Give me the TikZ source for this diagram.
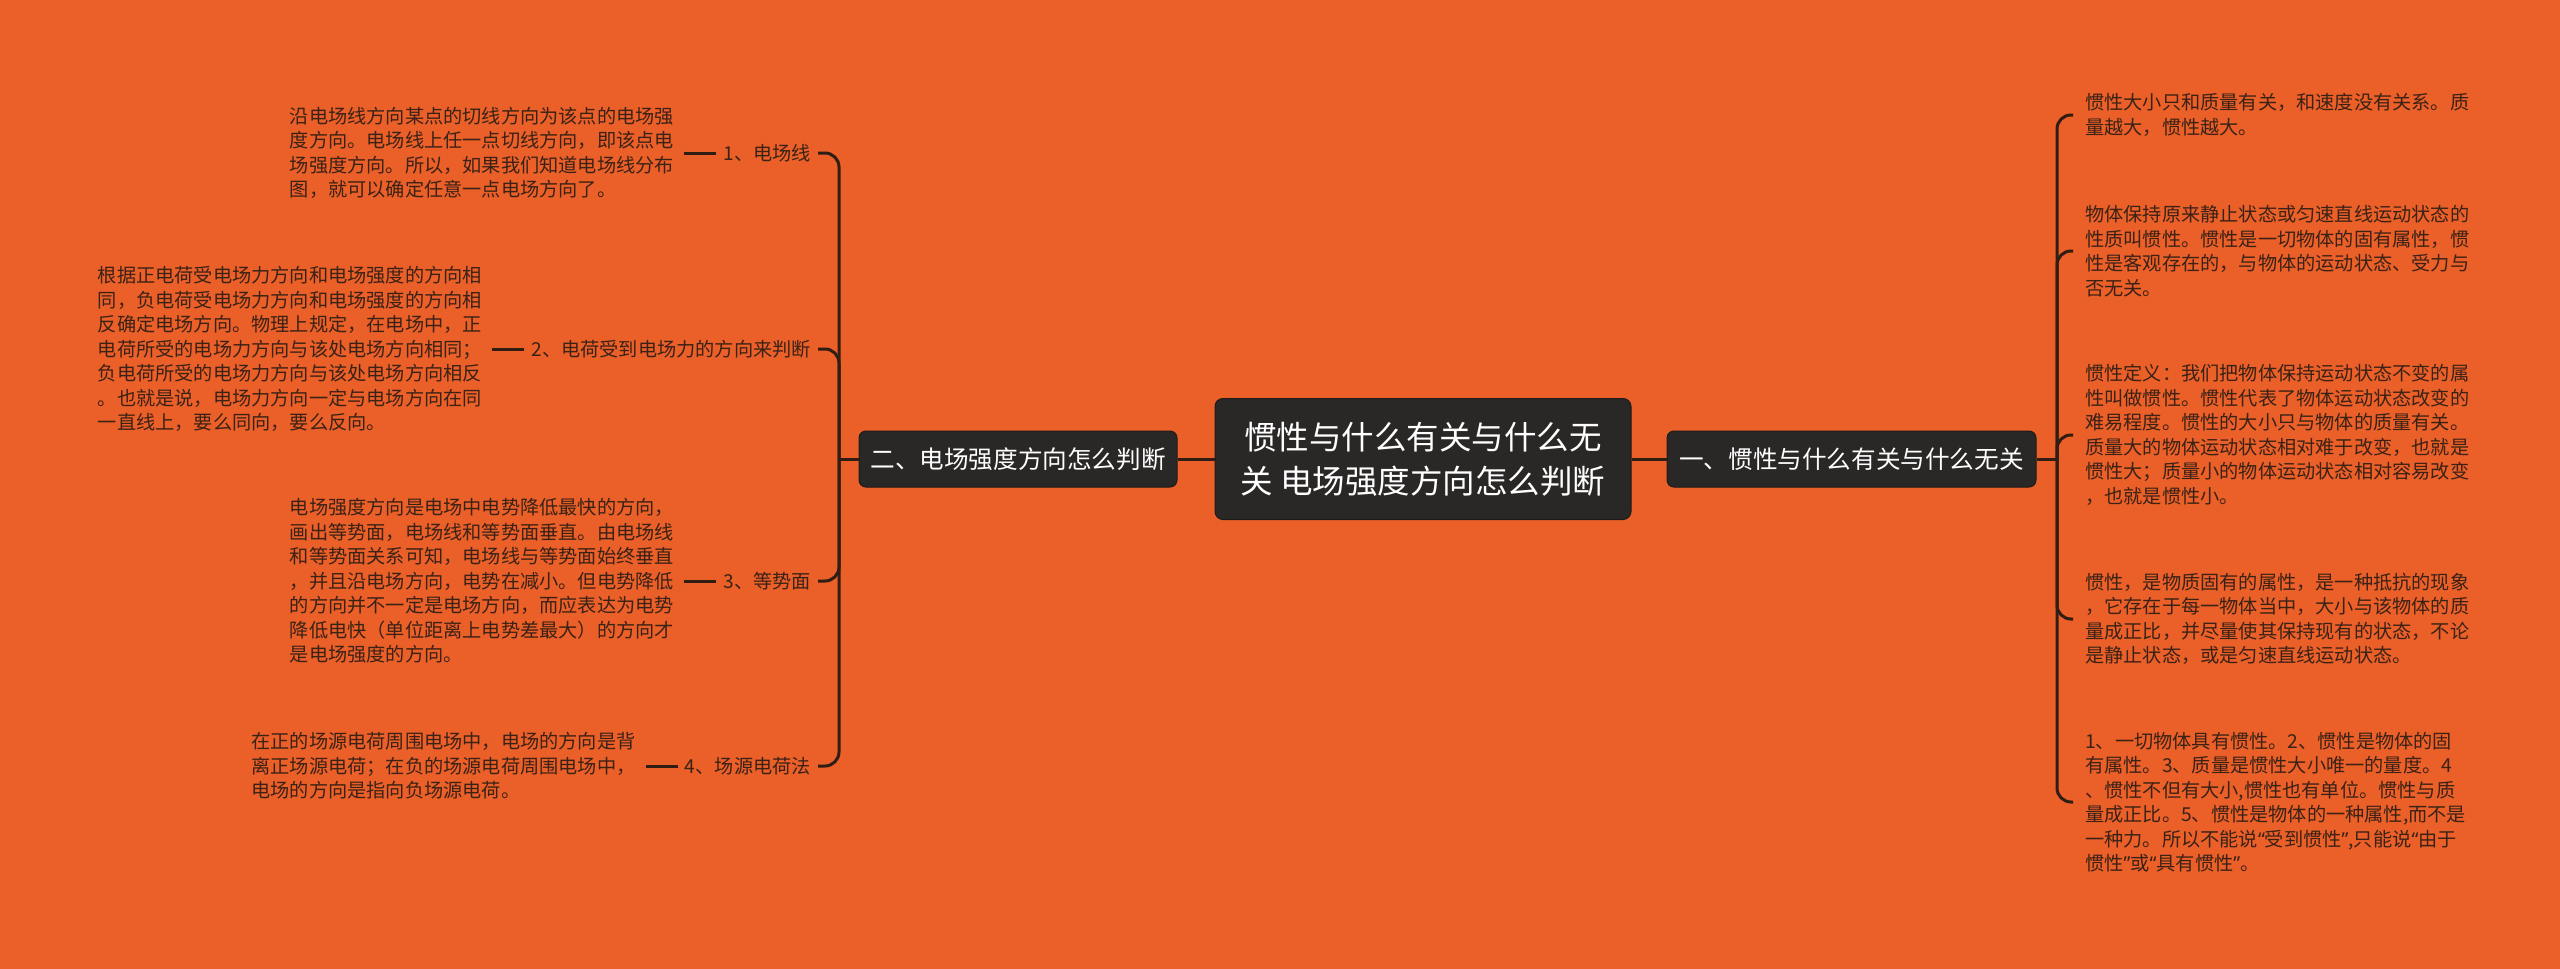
\documentclass[tikz,border=0pt]{standalone}
\usepackage{fontspec}
\setmainfont{Noto Sans CJK SC}
\newfontfamily\qfont{Noto Sans}
\newcommand{\myoq}{{\qfont “}}
\newcommand{\mycq}{{\qfont ”}}
\definecolor{bgc}{RGB}{235,95,40}
\definecolor{boxc}{RGB}{42,40,39}
\definecolor{boxd}{RGB}{30,28,27}
\definecolor{linec}{RGB}{48,30,20}
\definecolor{txtc}{RGB}{58,34,22}
\begin{document}
\begin{tikzpicture}[x=1pt,y=-1pt,
  conn/.style={draw=linec, line width=3pt, rounded corners=14pt},
  plainconn/.style={draw=linec, line width=3pt},
  mainbox/.style={fill=boxc, draw=boxd, line width=1pt, rounded corners=7pt, text=white,
    font=\fontsize{24.6}{30}\selectfont, minimum height=56pt, inner xsep=0pt, inner ysep=0pt},
  centerbox/.style={fill=boxc, draw=boxd, line width=1pt, rounded corners=8pt, text=white,
    font=\fontsize{32.5}{44}\selectfont, align=center, minimum width=416pt, minimum height=121pt},
  desc/.style={text=txtc, font=\fontsize{19.2}{24.5}\selectfont, align=left, inner xsep=10pt, inner ysep=2pt, anchor=east},
  rdesc/.style={text=txtc, font=\fontsize{19.2}{24.5}\selectfont, align=left, inner xsep=12pt, inner ysep=2pt, anchor=west},
  lab/.style={text=txtc, font=\fontsize{19.2}{24.5}\selectfont, inner xsep=7pt, anchor=east},
]
\useasboundingbox (0,0) rectangle (2560,969);
\fill[bgc] (0,0) rectangle (2560,969);

% center
\node[centerbox] (c) at (1423,459) {惯性与什么有关与什么无\\关 电场强度方向怎么判断};

% main branches
\node[mainbox, minimum width=318pt] (lm) at (1018,459) {二、电场强度方向怎么判断};
\node[mainbox, minimum width=369pt] (rm) at (1851.5,459) {一、惯性与什么有关与什么无关};

\draw[plainconn] (c.west) -- (lm.east);
\draw[plainconn] (c.east) -- (rm.west);

\coordinate (ls) at (839,459);
\coordinate (rs) at (2057,459);
\draw[plainconn] (lm.west) -- (ls);
\draw[plainconn] (rm.east) -- (rs);

% left labels
\node[lab] (l1) at (818,153) {1、电场线};
\node[lab] (l2) at (818,349) {2、电荷受到电场力的方向来判断};
\node[lab] (l3) at (818,581) {3、等势面};
\node[lab] (l4) at (818,766) {4、场源电荷法};

\foreach \n in {l1,l2,l3,l4} \draw[conn] (ls) |- (\n.east);

% left descriptions
\node[desc] (d1) at ([xshift=-32pt]l1.west) {沿电场线方向某点的切线方向为该点的电场强\\度方向。电场线上任一点切线方向，即该点电\\场强度方向。所以，如果我们知道电场线分布\\图，就可以确定任意一点电场方向了。};
\node[desc] (d2) at ([xshift=-32pt]l2.west) {根据正电荷受电场力方向和电场强度的方向相\\同，负电荷受电场力方向和电场强度的方向相\\反确定电场方向。物理上规定，在电场中，正\\电荷所受的电场力方向与该处电场方向相同；\\负电荷所受的电场力方向与该处电场方向相反\\。也就是说，电场力方向一定与电场方向在同\\一直线上，要么同向，要么反向。};
\node[desc] (d3) at ([xshift=-32pt]l3.west) {电场强度方向是电场中电势降低最快的方向，\\画出等势面，电场线和等势面垂直。由电场线\\和等势面关系可知，电场线与等势面始终垂直\\，并且沿电场方向，电势在减小。但电势降低\\的方向并不一定是电场方向，而应表达为电势\\降低电快（单位距离上电势差最大）的方向才\\是电场强度的方向。};
\node[desc] (d4) at ([xshift=-32pt]l4.west) {在正的场源电荷周围电场中，电场的方向是背\\离正场源电荷；在负的场源电荷周围电场中，\\电场的方向是指向负场源电荷。};

\draw[plainconn] (l1.west) -- (d1.east);
\draw[plainconn] (l2.west) -- (d2.east);
\draw[plainconn] (l3.west) -- (d3.east);
\draw[plainconn] (l4.west) -- (d4.east);

% right children
\node[rdesc] (r1) at (2073,115) {惯性大小只和质量有关，和速度没有关系。质\\量越大，惯性越大。};
\node[rdesc] (r2) at (2073,251) {物体保持原来静止状态或匀速直线运动状态的\\性质叫惯性。惯性是一切物体的固有属性，惯\\性是客观存在的，与物体的运动状态、受力与\\否无关。};
\node[rdesc] (r3) at (2073,435) {惯性定义：我们把物体保持运动状态不变的属\\性叫做惯性。惯性代表了物体运动状态改变的\\难易程度。惯性的大小只与物体的质量有关。\\质量大的物体运动状态相对难于改变，也就是\\惯性大；质量小的物体运动状态相对容易改变\\，也就是惯性小。};
\node[rdesc] (r4) at (2073,619) {惯性，是物质固有的属性，是一种抵抗的现象\\，它存在于每一物体当中，大小与该物体的质\\量成正比，并尽量使其保持现有的状态，不论\\是静止状态，或是匀速直线运动状态。};
\node[rdesc] (r5) at (2073,802) {1、一切物体具有惯性。2、惯性是物体的固\\有属性。3、质量是惯性大小唯一的量度。4\\、惯性不但有大小,惯性也有单位。惯性与质\\量成正比。5、惯性是物体的一种属性,而不是\\一种力。所以不能说\myoq 受到惯性\mycq,只能说\myoq 由于\\惯性\mycq 或\myoq 具有惯性\mycq 。};

\foreach \n in {r1,r2,r3,r4,r5} \draw[conn] (rs) |- (\n.west);
\end{tikzpicture}
\end{document}
